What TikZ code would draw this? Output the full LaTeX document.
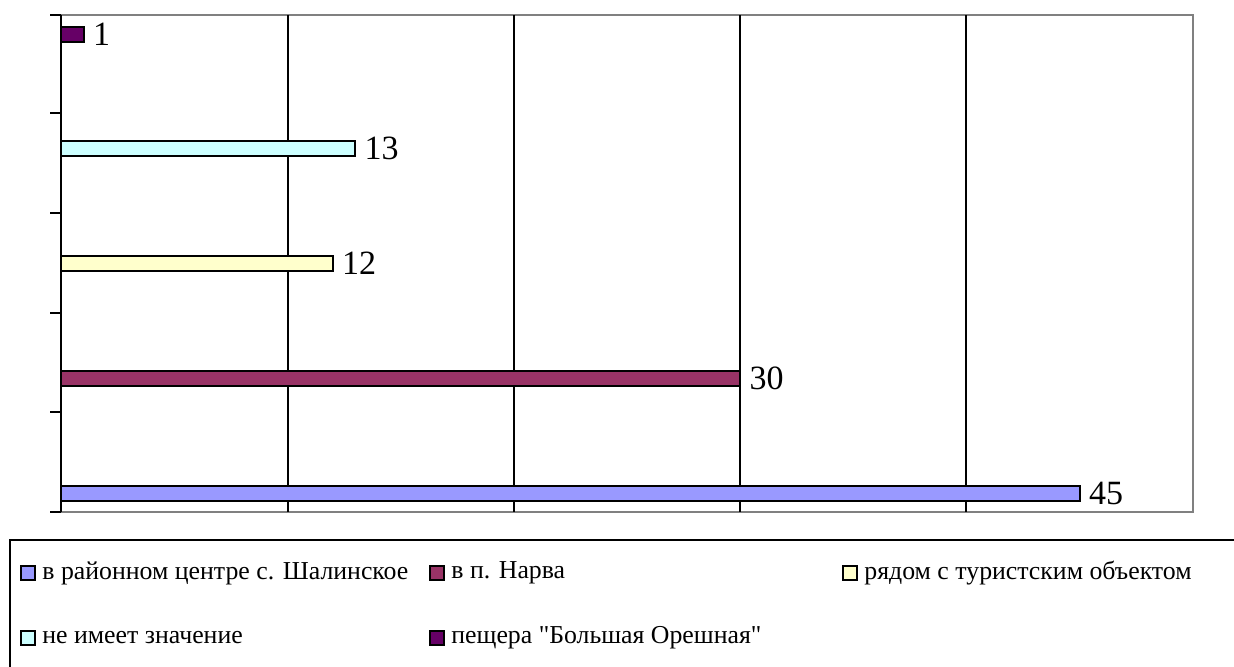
\documentclass[tikz,border=0pt]{standalone}
\usepackage{fontspec}
\setmainfont{Liberation Serif}[Ligatures=TeXOff]
\usetikzlibrary{positioning}
\definecolor{serblue}{HTML}{9999FF}
\definecolor{serplum}{HTML}{993366}
\definecolor{seryellow}{HTML}{FFFFCC}
\definecolor{sercyan}{HTML}{CCFFFF}
\definecolor{serviolet}{HTML}{660066}
\tikzset{
  bar/.style={draw=black,line width=1pt},
  val/.style={font=\fontsize{17}{19}\selectfont,anchor=west,inner sep=0pt},
  key/.style={draw=black,line width=1pt,minimum size=7pt,inner sep=0pt},
  keytext/.style={font=\fontsize{12.9}{15}\selectfont,inner sep=0pt,right=3pt of #1}
}
\begin{document}
\begin{tikzpicture}[x=0.5pt,y=-0.5pt]
  \clip (0,0) rectangle (1234,666);
  % plot area
  \draw[gray,line width=1pt] (61,15) -- (1193,15) -- (1193,512) -- (61,512);
  \foreach \x in {288,514,740,966}
    \draw[line width=1pt] (\x,15) -- (\x,512);
  \draw[line width=1pt] (61,15) -- (61,512);
  \foreach \y in {15,113,213,313,412,512}
    \draw[line width=1pt] (50,\y) -- (61,\y);
  % bars
  \foreach \v/\y/\c in {45/493/serblue,30/378/serplum,12/263/seryellow,13/148/sercyan,1/34/serviolet}{
    \draw[bar,fill=\c] (61,\y-7.5) rectangle ({61+22.64*\v},\y+7.5);
    \node[val] (v\v) at ({61+22.64*\v+9},\y) {\v};
  }
  % legend
  \draw[line width=1pt] (1240,540) -- (10,540) -- (10,670);
  \node[key,fill=serblue] (k1) at (28,573) {};
  \node[keytext=k1] (t1) {в районном центре с. Шалинское};
  \node[key,fill=serplum] (k2) at (437,573) {};
  \node[keytext=k2] (t2) {в п. Нарва};
  \node[key,fill=seryellow] (k3) at (850,573) {};
  \node[keytext=k3] (t3) {рядом с туристским объектом};
  \node[key,fill=sercyan] (k4) at (28,638) {};
  \node[keytext=k4] (t4) {не имеет значение};
  \node[key,fill=serviolet] (k5) at (437,638) {};
  \node[keytext=k5] (t5) {пещера "Большая Орешная"};
\end{tikzpicture}
\end{document}
